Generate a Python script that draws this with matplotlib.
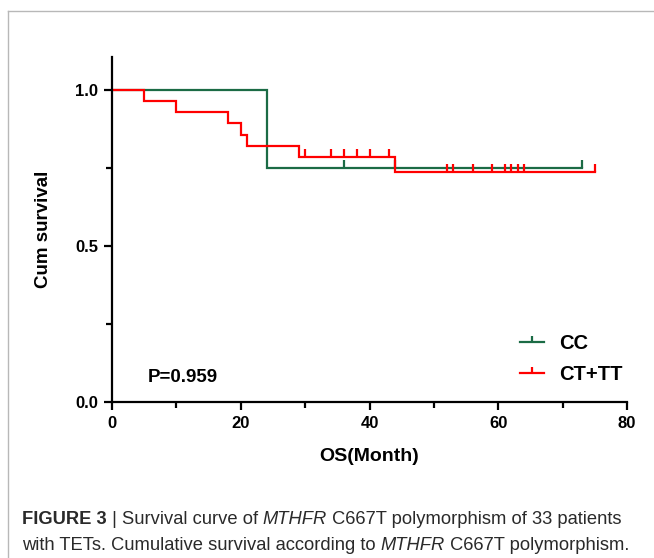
import matplotlib.pyplot as plt
from matplotlib.lines import Line2D
from matplotlib.path import Path

plt.rcParams['font.family'] = ['Liberation Sans', 'DejaVu Sans']

# Kaplan-Meier steps
cc_time = [0, 24, 73]
cc_surv = [1.0, 0.75, 0.75]
cc_censor = [36, 44, 73]

ct_time = [0, 5, 10, 18, 20, 21, 29, 44, 75]
ct_surv = [1.0, 0.964, 0.929, 0.893, 0.857, 0.821, 0.786, 0.737, 0.737]
ct_censor = [30, 34, 36, 38, 40, 43, 52, 53, 56, 59, 61, 62, 63, 64, 75]

labels = ['CC', 'CT+TT']
colors = ['#1b6b45', '#ff0000']
p_text = 'P=0.959'


def surv_at(times, survs, t):
    s = survs[0]
    for ti, si in zip(times, survs):
        if ti <= t:
            s = si
    return s


tick_up = Path([(0, 0), (0, 1)])

fig = plt.figure(figsize=(6.54, 5.58), dpi=100)
ax = fig.add_axes([0.1713, 0.2796, 0.7875, 0.6183])

groups = [(cc_time, cc_surv, cc_censor), (ct_time, ct_surv, ct_censor)]
for (t, s, c), col in zip(groups, colors):
    ax.step(t, s, where='post', color=col, lw=1.6, solid_joinstyle='miter')
    cy = [surv_at(t, s, x) for x in c]
    ax.plot(c, cy, ls='none', marker=tick_up, ms=11, mew=1.6, color=col)

ax.set_xlim(0, 80)
ax.set_ylim(0, 1.106)
ax.set_xticks([0, 20, 40, 60, 80])
ax.set_xticks([10, 30, 50, 70], minor=True)
ax.set_yticks([0.0, 0.5, 1.0])
ax.set_yticklabels(['0.0', '0.5', '1.0'])
ax.set_yticks([0.25, 0.75], minor=True)
for side in ['top', 'right']:
    ax.spines[side].set_visible(False)
for side in ['left', 'bottom']:
    ax.spines[side].set_linewidth(1.6)
ax.tick_params(which='major', length=6, width=1.6, labelsize=12, pad=4)
ax.tick_params(which='minor', length=4, width=1.6)
for lab in ax.get_xticklabels() + ax.get_yticklabels():
    lab.set_fontweight('bold')
ax.set_xlabel('OS(Month)', fontsize=14, fontweight='bold', labelpad=12)
ax.set_ylabel('Cum survival', fontsize=13.5, fontweight='bold', labelpad=17)

ax.text(0.07, 0.072, p_text, transform=ax.transAxes, fontsize=13.5,
        fontweight='bold', va='center', ha='left')

handles = [Line2D([0], [0], color=col, lw=1.6, marker=tick_up, ms=9, mew=1.6)
           for col in colors]
leg = ax.legend(handles, labels, loc='center left', bbox_to_anchor=(0.756, 0.124),
                frameon=False, numpoints=1, handlelength=1.24, handletextpad=0.75,
                labelspacing=0.6, prop={'weight': 'bold', 'size': 14.5})

# grey frame around figure panel
fig.add_artist(Line2D([8 / 654, 1], [1 - 11 / 558] * 2, color='#b8b8b8', lw=1))
fig.add_artist(Line2D([8 / 654] * 2, [0, 1 - 11 / 558], color='#b8b8b8', lw=1))

# caption, drawn piece by piece for mixed styles
renderer = fig.canvas.get_renderer()
cap_lines = [
    [('FIGURE 3', 'bold', 'normal'), (' | Survival curve of ', 'normal', 'normal'),
     ('MTHFR', 'normal', 'italic'), (' C667T polymorphism of 33 patients', 'normal', 'normal')],
    [('with TETs. Cumulative survival according to ', 'normal', 'normal'),
     ('MTHFR', 'normal', 'italic'), (' C667T polymorphism.', 'normal', 'normal')],
]
cap_y = [1 - 520 / 558, 1 - 545 / 558]
for pieces, y in zip(cap_lines, cap_y):
    x = 22 / 654
    for txt, w, st in pieces:
        tt = fig.text(x, y, txt, fontsize=13.2, fontweight=w, fontstyle=st,
                      va='center', ha='left', color='#2a2a2a')
        bb = tt.get_window_extent(renderer)
        x += bb.width / fig.bbox.width

fig.savefig('out.png', dpi=100)
